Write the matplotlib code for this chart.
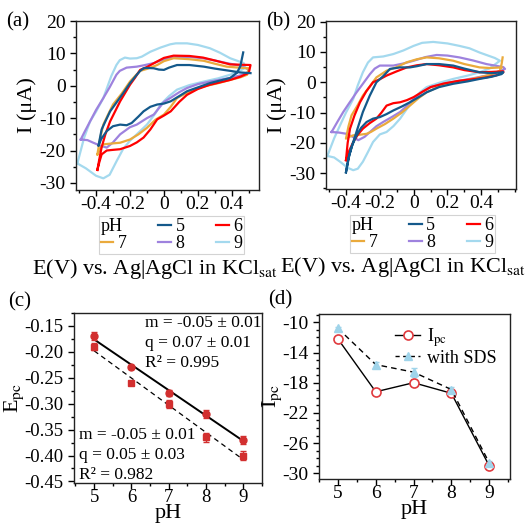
import numpy as np
import matplotlib
matplotlib.use("Agg")
import matplotlib.pyplot as plt
from matplotlib.lines import Line2D
from matplotlib.ticker import MultipleLocator, FormatStrFormatter

plt.rcParams['font.family'] = ['Liberation Serif', 'DejaVu Serif']
plt.rcParams['mathtext.fontset'] = 'stix'
plt.rcParams['axes.unicode_minus'] = False

# ---- CV curves, panel (a): (E in V, I in uA) traced around each loop ----
a9 = [(-0.51, -24.0), (-0.46, -25.5), (-0.40, -27.8), (-0.357, -28.6), (-0.32, -27.5), (-0.278, -23.2),
      (-0.24, -19.5), (-0.2, -17.0), (-0.15, -14.5), (-0.1, -12.0), (-0.05, -8.5), (-0.02, -5.8),
      (0.03, -3.2), (0.077, -1.2), (0.15, 0.2), (0.235, 1.3), (0.32, 2.3), (0.39, 3.4), (0.44, 4.4),
      (0.48, 5.6), (0.47, 7.0), (0.39, 8.5), (0.33, 10.2), (0.27, 11.6), (0.2, 12.6), (0.136, 13.1),
      (0.07, 13.1), (0.037, 12.8), (-0.02, 11.8), (-0.08, 10.5), (-0.13, 9.0), (-0.16, 8.5), (-0.2, 8.4),
      (-0.23, 8.7), (-0.26, 7.9), (-0.28, 6.4), (-0.31, 3.0), (-0.357, -3.8), (-0.40, -8.0),
      (-0.435, -11.0), (-0.47, -16.0), (-0.51, -24.0)]
a8 = [(-0.49, -16.6), (-0.45, -16.8), (-0.416, -17.6), (-0.37, -18.6), (-0.337, -19.1), (-0.30, -17.5),
      (-0.258, -15.0), (-0.2, -12.8), (-0.16, -12.0), (-0.1, -10.0), (-0.06, -8.9), (0.0, -5.0),
      (0.037, -3.8), (0.09, -2.0), (0.136, -0.7), (0.2, 0.5), (0.27, 1.3), (0.39, 2.4), (0.45, 3.2),
      (0.49, 3.9), (0.5, 5.0), (0.45, 6.2), (0.37, 7.0), (0.3, 7.8), (0.23, 8.5), (0.15, 8.9),
      (0.08, 8.9), (0.04, 8.7), (-0.02, 7.8), (-0.06, 7.0), (-0.12, 6.3), (-0.16, 5.9), (-0.22, 5.6),
      (-0.26, 4.6), (-0.28, 3.4), (-0.32, -0.5), (-0.357, -3.8), (-0.40, -7.5), (-0.435, -11.0),
      (-0.47, -14.5), (-0.49, -16.6)]
a7 = [(-0.392, -21.2), (-0.375, -19.5), (-0.357, -18.1), (-0.3, -17.8), (-0.258, -17.6), (-0.2, -16.6),
      (-0.15, -15.0), (-0.1, -13.0), (-0.05, -10.5), (0.0, -8.9), (0.04, -6.5), (0.077, -3.8),
      (0.15, -1.8), (0.235, -0.2), (0.32, 0.8), (0.39, 1.8), (0.45, 2.6), (0.49, 3.4), (0.5, 5.4),
      (0.44, 5.6), (0.37, 5.9), (0.3, 6.8), (0.235, 7.7), (0.15, 8.2), (0.057, 8.5), (0.0, 7.6),
      (-0.04, 6.4), (-0.1, 5.2), (-0.14, 4.6), (-0.17, 3.0), (-0.2, 1.3), (-0.25, -2.5), (-0.3, -5.8),
      (-0.33, -9.0), (-0.357, -12.0), (-0.375, -16.0), (-0.392, -21.2)]
a6 = [(-0.392, -26.0), (-0.38, -23.5), (-0.367, -21.2), (-0.337, -20.0), (-0.3, -19.8), (-0.258, -19.6),
      (-0.2, -18.6), (-0.16, -17.5), (-0.12, -16.0), (-0.08, -13.5), (-0.04, -10.4), (0.0, -9.2),
      (0.04, -7.9), (0.09, -5.0), (0.136, -2.8), (0.2, -1.0), (0.27, 0.3), (0.39, 1.8), (0.45, 2.8),
      (0.5, 4.0), (0.51, 6.4), (0.45, 6.5), (0.39, 6.6), (0.3, 7.8), (0.23, 8.7), (0.15, 9.2),
      (0.057, 9.3), (0.0, 8.6), (-0.04, 7.5), (-0.1, 5.8), (-0.14, 4.9), (-0.17, 2.5), (-0.2, 0.3),
      (-0.258, -4.8), (-0.317, -11.0), (-0.345, -15.0), (-0.367, -19.0), (-0.38, -22.5), (-0.392, -26.0)]
a5 = [(0.51, 3.9), (0.45, 4.1), (0.39, 4.6), (0.3, 5.3), (0.235, 5.9), (0.15, 6.4), (0.077, 6.4),
      (0.03, 5.6), (0.0, 4.9), (-0.03, 5.0), (-0.06, 5.4), (-0.1, 5.5), (-0.12, 5.4), (-0.14, 4.6),
      (-0.16, 3.4), (-0.2, 0.8), (-0.24, -2.3), (-0.28, -5.2), (-0.317, -7.9), (-0.345, -11.0),
      (-0.367, -13.5), (-0.386, -18.6), (-0.37, -16.5), (-0.337, -14.0), (-0.3, -12.5), (-0.258, -12.0),
      (-0.22, -12.2), (-0.19, -11.5), (-0.15, -9.5), (-0.12, -7.9), (-0.08, -6.5), (-0.04, -5.8),
      (0.0, -5.5), (0.04, -4.8), (0.09, -3.2), (0.136, -1.7), (0.2, -0.5), (0.27, 0.8), (0.39, 2.4),
      (0.43, 4.0), (0.45, 6.0), (0.467, 10.3)]

# ---- CV curves, panel (b): with SDS ----
b9 = [(-0.51, -24.3), (-0.47, -24.8), (-0.435, -26.2), (-0.39, -28.2), (-0.357, -29.0), (-0.33, -28.5),
      (-0.3, -26.2), (-0.27, -23.0), (-0.24, -19.7), (-0.2, -17.2), (-0.16, -16.4), (-0.12, -14.5),
      (-0.08, -12.0), (-0.04, -8.8), (0.0, -5.5), (0.04, -3.2), (0.077, -1.6), (0.15, -0.2),
      (0.234, 1.1), (0.32, 2.2), (0.39, 3.3), (0.45, 4.6), (0.51, 7.1), (0.48, 8.0), (0.39, 9.8),
      (0.33, 11.2), (0.27, 12.0), (0.2, 12.8), (0.116, 13.3), (0.05, 13.0), (0.0, 12.0), (-0.06, 10.5),
      (-0.12, 9.3), (-0.18, 8.5), (-0.24, 8.2), (-0.27, 6.5), (-0.3, 3.3), (-0.33, -1.0), (-0.357, -5.5),
      (-0.40, -10.0), (-0.435, -14.2), (-0.47, -18.5), (-0.51, -24.3)]
b8 = [(-0.485, -16.4), (-0.44, -16.6), (-0.396, -17.0), (-0.36, -18.0), (-0.327, -19.1), (-0.29, -18.0),
      (-0.258, -16.4), (-0.22, -14.5), (-0.18, -13.1), (-0.13, -11.5), (-0.08, -9.8), (-0.04, -7.8),
      (0.0, -5.5), (0.05, -3.2), (0.1, -1.6), (0.18, -0.4), (0.27, 0.5), (0.35, 1.3), (0.43, 2.2),
      (0.49, 3.2), (0.54, 4.4), (0.53, 5.0), (0.48, 5.5), (0.43, 6.0), (0.35, 7.2), (0.27, 8.2),
      (0.2, 8.8), (0.136, 9.0), (0.07, 8.3), (0.0, 7.1), (-0.06, 6.2), (-0.12, 5.5), (-0.2, 5.5),
      (-0.23, 4.5), (-0.258, 2.7), (-0.3, -0.5), (-0.337, -3.3), (-0.38, -6.8), (-0.416, -9.8),
      (-0.45, -13.0), (-0.485, -16.4)]
b7 = [(0.52, 4.9), (0.45, 4.7), (0.39, 4.9), (0.3, 6.0), (0.234, 7.1), (0.15, 7.9), (0.077, 8.2),
      (0.02, 7.6), (-0.04, 6.6), (-0.1, 5.0), (-0.16, 3.8), (-0.22, 1.6), (-0.26, -1.4), (-0.3, -4.4),
      (-0.33, -7.5), (-0.367, -10.9), (-0.385, -14.5), (-0.4, -18.6), (-0.38, -18.0), (-0.357, -17.5),
      (-0.318, -17.3), (-0.278, -17.0), (-0.25, -16.3), (-0.22, -15.3), (-0.17, -13.8), (-0.12, -12.0),
      (-0.07, -10.0), (-0.022, -7.7), (0.03, -5.2), (0.077, -3.3), (0.15, -1.4), (0.234, 0.0),
      (0.32, 0.8), (0.39, 1.6), (0.46, 2.6), (0.51, 3.8), (0.52, 6.0), (0.526, 8.2)]
b6 = [(-0.4, -25.7), (-0.38, -22.5), (-0.357, -19.7), (-0.33, -17.3), (-0.3, -15.3), (-0.26, -13.5),
      (-0.22, -12.0), (-0.19, -10.0), (-0.16, -7.7), (-0.12, -6.9), (-0.08, -6.6), (-0.04, -5.9),
      (0.0, -4.9), (0.05, -3.2), (0.1, -1.6), (0.18, -0.4), (0.27, 0.5), (0.35, 1.0), (0.43, 1.6),
      (0.49, 2.3), (0.53, 3.3), (0.53, 3.6), (0.46, 3.4), (0.39, 3.3), (0.3, 4.0), (0.234, 4.9),
      (0.15, 5.6), (0.077, 6.0), (0.02, 5.6), (-0.04, 4.9), (-0.1, 3.6), (-0.16, 2.2), (-0.2, 1.0),
      (-0.24, 0.0), (-0.28, -3.0), (-0.317, -6.6), (-0.35, -11.0), (-0.376, -15.3), (-0.39, -20.0),
      (-0.4, -25.7)]
b5 = [(-0.4, -29.7), (-0.385, -25.0), (-0.365, -21.0), (-0.337, -17.5), (-0.31, -15.0), (-0.278, -13.1),
      (-0.24, -12.0), (-0.2, -11.5), (-0.16, -10.5), (-0.12, -9.3), (-0.07, -8.0), (-0.022, -6.6),
      (0.03, -4.9), (0.077, -3.3), (0.15, -1.6), (0.234, -0.5), (0.32, 0.3), (0.39, 1.1), (0.46, 1.8),
      (0.52, 2.7), (0.53, 3.3), (0.46, 3.0), (0.39, 3.3), (0.3, 4.5), (0.234, 5.5), (0.15, 6.0),
      (0.077, 6.0), (0.02, 5.3), (-0.022, 4.9), (-0.08, 4.9), (-0.14, 4.4), (-0.18, 2.0), (-0.22, 0.0),
      (-0.26, -4.5), (-0.3, -9.8), (-0.33, -15.0), (-0.357, -19.7), (-0.38, -24.0), (-0.4, -29.7)]

ph_labels = ['5', '6', '7', '8', '9']
ph_colors = ['#14598b', '#ff0000', '#eaaa3c', '#9e82de', '#a4d9ee']

# ---- panel (c): cathodic peak potentials ----
ph = [5, 6, 7, 8, 9]
epc_circ = [-0.17, -0.23, -0.28, -0.32, -0.37]
epc_circ_err = [0.008, 0.004, 0.006, 0.008, 0.008]
epc_sq = [-0.19, -0.26, -0.30, -0.365, -0.40]
epc_sq_err = [0.007, 0.004, 0.008, 0.008, 0.008]

# ---- panel (d): cathodic peak currents ----
ipc = [-12.2, -19.2, -18.0, -19.4, -29.0]
ipc_err = [0.3, 0.2, 0.3, 0.3, 0.3]
ipc_sds = [-10.8, -15.6, -16.6, -18.9, -28.6]
ipc_sds_err = [0.2, 0.3, 0.6, 0.3, 0.2]

W, H = 526, 524
fig = plt.figure(figsize=(W / 100, H / 100), dpi=100)


def box(l, t, r, b):
    return [l / W, 1 - b / H, (r - l) / W, (b - t) / H]


def tag(x, y, s):
    fig.text(x / W, 1 - y / H, s, fontsize=15, ha='left', va='center')


def style(ax, fs=14):
    for s in ax.spines.values():
        s.set_linewidth(1.0)
        s.set_color('#222222')
    ax.tick_params(which='both', direction='out', top=False, right=False, labelsize=fs, width=1.0)
    ax.tick_params(which='major', length=4)
    ax.tick_params(which='minor', length=2.5)


def cv_panel(ax, curves, lims, label_x):
    for pts, c in list(zip(curves, ph_colors))[::-1]:
        e = [p[0] for p in pts]
        i = [p[1] for p in pts]
        ax.plot(e, i, color=c, lw=1.6, solid_joinstyle='round')
    ax.set_xlim(-0.518, lims[2])
    ax.set_ylim(lims[0], lims[1])
    ax.xaxis.set_minor_locator(MultipleLocator(0.1))
    ax.yaxis.set_major_locator(MultipleLocator(10))
    ax.yaxis.set_minor_locator(MultipleLocator(5))
    ax.set_xticks([-0.4, -0.2, 0, 0.2, 0.4])
    ax.set_xticklabels(['-0.4', '-0.2', '0', '0.2', '0.4'])
    style(ax)
    ax.tick_params(axis='x', pad=0)
    ax.set_ylabel('I (μA)', fontsize=16, labelpad=2)
    ax.text(label_x, -0.465, r'E(V) vs. Ag|AgCl in KCl$_{\rm sat}$', transform=ax.transAxes,
            fontsize=16, ha='center', va='center')
    # legend: pH, 5, 6 / 7, 8, 9
    hd = [Line2D([], [], color='none')] + [Line2D([], [], color=c, lw=1.6) for c in ph_colors]
    lb = ['pH'] + ph_labels
    order = [0, 3, 1, 4, 2, 5]
    leg = ax.legend([hd[k] for k in order], [lb[k] for k in order], ncol=3, loc='upper left',
                    bbox_to_anchor=(0.125, -0.155), borderaxespad=0, fontsize=13, handlelength=0.7,
                    handletextpad=0.25, columnspacing=1.75, labelspacing=0.0, borderpad=0.1,
                    frameon=True, fancybox=False)
    leg.get_frame().set_edgecolor('#c8c8c8')
    leg.get_frame().set_linewidth(0.8)
    try:
        hp = leg._legend_handle_box.get_children()[0].get_children()[0]
        hp.get_children()[0].width = 0
        hp.sep = 0
    except Exception:
        pass


ax_a = fig.add_axes(box(76, 21, 259, 190))
cv_panel(ax_a, [a5, a6, a7, a8, a9], (-32.2, 20, 0.56), 0.43)
tag(6, 22, '(a)')

ax_b = fig.add_axes(box(326, 21, 516, 189))
cv_panel(ax_b, [b5, b6, b7, b8, b9], (-35.2, 20.2, 0.605), 0.405)
tag(266, 22, '(b)')

# panel (c)
ax_c = fig.add_axes(box(74, 313, 262, 483))
red = '#d22f2f'
ax_c.errorbar(ph, epc_circ, yerr=epc_circ_err, fmt='o', color=red, ms=5, capsize=2.5, elinewidth=1, zorder=3)
ax_c.errorbar(ph, epc_sq, yerr=epc_sq_err, fmt='s', color=red, ms=5, capsize=2.5, elinewidth=1, zorder=3)
k1 = np.polyfit(ph, epc_circ, 1)
k2 = np.polyfit(ph, epc_sq, 1)
xf = np.array([ph[0], ph[-1]])
ax_c.plot(xf, np.polyval(k1, xf), color='black', lw=1.4, zorder=2)
ax_c.plot(xf, np.polyval(k2, xf), color='black', lw=0.9, ls=(0, (4, 3)), zorder=2)
ax_c.set_xlim(4.46, 9.5)
ax_c.set_ylim(-0.453, -0.125)
ax_c.xaxis.set_major_locator(MultipleLocator(1))
ax_c.xaxis.set_minor_locator(MultipleLocator(0.5))
ax_c.yaxis.set_major_locator(MultipleLocator(0.05))
ax_c.yaxis.set_minor_locator(MultipleLocator(0.025))
ax_c.yaxis.set_major_formatter(FormatStrFormatter('%.2f'))
style(ax_c, 13.5)
ax_c.tick_params(axis='x', pad=0)
ax_c.set_xlabel('pH', fontsize=16, labelpad=-1)
ax_c.set_ylabel(r'E$_{\rm pc}$', fontsize=16, labelpad=-1)
ax_c.text(0.38, 0.99, 'm = -0.05 ± 0.01\nq = 0.07 ± 0.01\nR² = 0.995', transform=ax_c.transAxes,
          fontsize=12.5, va='top', ha='left', linespacing=1.35)
ax_c.text(0.025, 0.0, 'm = -0.05 ± 0.01\nq = 0.05 ± 0.03\nR² = 0.982', transform=ax_c.transAxes,
          fontsize=12.5, va='bottom', ha='left', linespacing=1.35)
tag(8, 302, '(c)')

# panel (d)
ax_d = fig.add_axes(box(319, 314, 510, 479))
pink = '#e03a3e'
sky = '#9fd4ea'
ax_d.errorbar(ph, ipc, yerr=ipc_err, color='black', lw=1.0, ecolor=pink, capsize=2,
              marker='o', ms=6.5, mfc='white', mec=pink, mew=1.2)
ax_d.errorbar(ph, ipc_sds, yerr=ipc_sds_err, color='black', lw=1.0, ls=(0, (4, 3)), ecolor=sky,
              capsize=2, marker='^', ms=5.5, mfc=sky, mec=sky)
ax_d.set_xlim(4.5, 9.55)
ax_d.set_ylim(-30.75, -8.9)
ax_d.xaxis.set_major_locator(MultipleLocator(1))
ax_d.xaxis.set_minor_locator(MultipleLocator(0.5))
ax_d.set_yticks([-10, -14, -18, -22, -26, -30])
ax_d.yaxis.set_minor_locator(MultipleLocator(1))
style(ax_d)
ax_d.tick_params(axis='x', pad=0)
ax_d.set_xlabel('pH', fontsize=16, labelpad=-1)
ax_d.set_ylabel(r'I$_{\rm pc}$', fontsize=16, labelpad=-1)
lh = [Line2D([], [], color='black', lw=1.0, marker='o', ms=6.5, mfc='white', mec=pink, mew=1.2),
      Line2D([], [], color='black', lw=1.0, ls=(0, (3, 2.5)), marker='^', ms=5.5, mfc=sky, mec=sky)]
ax_d.legend(lh, [r'I$_{\rm pc}$', 'with SDS'], loc='upper left', bbox_to_anchor=(0.36, 0.97),
            borderaxespad=0, frameon=False, fontsize=13, handlelength=1.4, handletextpad=0.4,
            labelspacing=0.05)
tag(268, 300, '(d)')

fig.savefig('out.png', dpi=100)
